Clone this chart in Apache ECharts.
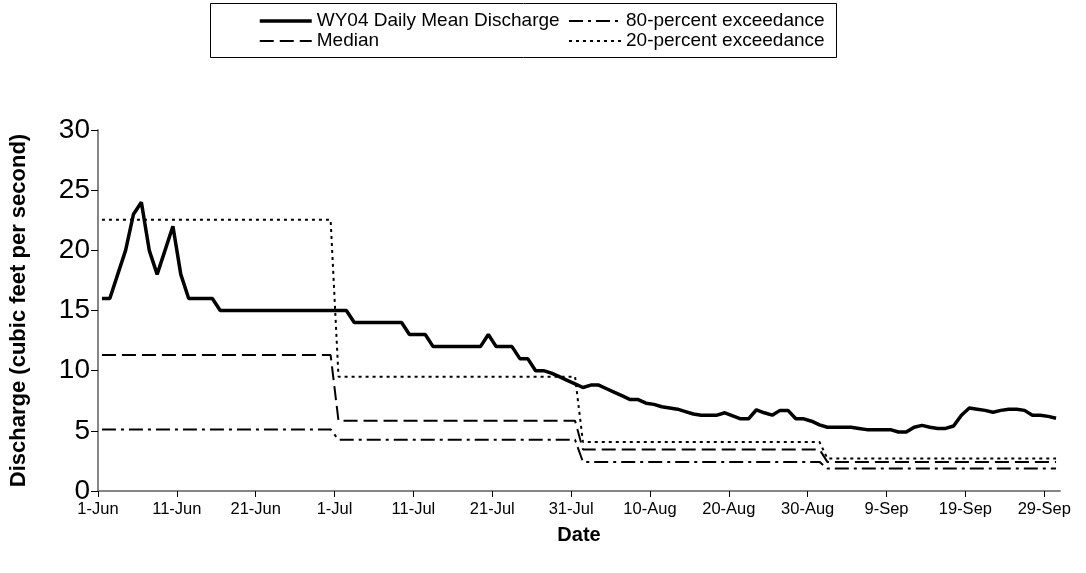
<!DOCTYPE html>
<html>
<head>
<meta charset="utf-8">
<script src="https://cdn.jsdelivr.net/npm/echarts@6/dist/echarts.min.js"></script>
<style>
  html, body { margin: 0; padding: 0; background: #fff; }
  #chart { width: 1086px; height: 573px; }
</style>
</head>
<body>
<div id="chart"></div>
<script>
// days per month, water year 2004 summer (1-Jun .. 30-Sep)
const monthDays = [30, 31, 31, 30];
const tickLabels = ['1-Jun', '11-Jun', '21-Jun', '1-Jul', '11-Jul', '21-Jul', '31-Jul',
    '10-Aug', '20-Aug', '30-Aug', '9-Sep', '19-Sep', '29-Sep'];

// WY04 daily mean discharge, one value per day
const discharge = [
    // Jun
    16, 16, 18, 20, 23, 24, 20, 18, 20, 22, 18, 16, 16, 16, 16,
    15, 15, 15, 15, 15, 15, 15, 15, 15, 15, 15, 15, 15, 15, 15,
    // Jul
    15, 15, 14, 14, 14, 14, 14, 14, 14, 13, 13, 13, 12, 12, 12, 12,
    12, 12, 12, 13, 12, 12, 12, 11, 11, 10, 10, 9.8, 9.5, 9.2, 8.9,
    // Aug
    8.6, 8.8, 8.8, 8.5, 8.2, 7.9, 7.6, 7.6, 7.3, 7.2, 7.0, 6.9, 6.8, 6.6, 6.4, 6.3,
    6.3, 6.3, 6.5, 6.25, 6.0, 6.0, 6.75, 6.5, 6.3, 6.7, 6.7, 6.0, 6.0, 5.8, 5.5,
    // Sep
    5.3, 5.3, 5.3, 5.3, 5.2, 5.1, 5.1, 5.1, 5.1, 4.9, 4.9, 5.3, 5.45, 5.3, 5.2,
    5.2, 5.4, 6.3, 6.9, 6.8, 6.7, 6.55, 6.7, 6.8, 6.8, 6.7, 6.3, 6.3, 6.2, 6.05
];

// monthly statistics (Jun, Jul, Aug, Sep)
const medianByMonth = [11.3, 5.83, 3.45, 2.42];
const exceed80ByMonth = [5.12, 4.25, 2.42, 1.87];
const exceed20ByMonth = [22.55, 9.5, 4.08, 2.7];

const FONT = 'Liberation Sans, Arial, sans-serif';

// points sit in the middle of each day slot
function dailyPoints(values) {
    return values.map((v, i) => [i + 0.5, v]);
}

function monthlyPoints(monthVals) {
    const out = [];
    monthVals.forEach((v, m) => {
        for (let d = 0; d < monthDays[m]; d++) out.push([out.length + 0.5, v]);
    });
    return out;
}

const totalDays = monthDays.reduce((a, b) => a + b, 0);
const tickValues = tickLabels.map((_, i) => i * 10);

const legendCommon = {
    orient: 'vertical',
    top: 11,
    padding: 0,
    itemWidth: 52,
    itemHeight: 14,
    itemGap: 0,
    itemStyle: { opacity: 0 },
    textStyle: { fontSize: 19, fontFamily: FONT, color: '#000', lineHeight: 20 }
};

const chart = echarts.init(document.getElementById('chart'));

const option = {
    animation: false,
    backgroundColor: '#fff',
    textStyle: { fontFamily: FONT, color: '#000' },
    graphic: [{
        type: 'rect',
        shape: { x: 210.5, y: 3.5, width: 626, height: 54 },
        style: { fill: 'none', stroke: '#000', lineWidth: 1 }
    }],
    legend: [
        Object.assign({
            data: [{ name: 'WY04 Daily Mean Discharge', lineStyle: { width: 3.5 } }, 'Median'],
            left: 258
        }, legendCommon),
        Object.assign({ data: ['80-percent exceedance', '20-percent exceedance'], left: 568 }, legendCommon)
    ],
    grid: { left: 98, right: 26, top: 130, bottom: 82 },
    xAxis: {
        type: 'value',
        min: 0,
        max: totalDays,
        name: 'Date',
        nameLocation: 'middle',
        nameGap: 34,
        nameTextStyle: { fontSize: 20, fontWeight: 'bold', fontFamily: FONT, color: '#000' },
        splitLine: { show: false },
        axisLine: { lineStyle: { color: '#868686', width: 2 } },
        axisTick: { customValues: tickValues, length: 6, lineStyle: { color: '#000', width: 1 } },
        axisLabel: {
            customValues: tickValues,
            formatter: v => tickLabels[Math.round(v / 10)],
            fontSize: 16.5,
            fontFamily: FONT,
            color: '#000',
            margin: 10
        }
    },
    yAxis: {
        type: 'value',
        min: 0,
        max: 30,
        interval: 5,
        name: 'Discharge (cubic feet per second)',
        nameLocation: 'middle',
        nameGap: 68,
        nameTextStyle: { fontSize: 22, fontWeight: 'bold', fontFamily: FONT, color: '#000' },
        splitLine: { show: false },
        axisLine: { show: true, lineStyle: { color: '#868686', width: 2 } },
        axisTick: { show: true, length: 7, lineStyle: { color: '#000', width: 1 } },
        axisLabel: { fontSize: 28, fontFamily: FONT, color: '#000', margin: 8 }
    },
    series: [
        {
            name: '20-percent exceedance',
            type: 'line',
            symbol: 'none',
            data: monthlyPoints(exceed20ByMonth),
            lineStyle: { color: '#000', width: 2, type: [3, 4] },
            itemStyle: { color: '#000' }
        },
        {
            name: 'Median',
            type: 'line',
            symbol: 'none',
            data: monthlyPoints(medianByMonth),
            lineStyle: { color: '#000', width: 2, type: [14, 6] },
            itemStyle: { color: '#000' }
        },
        {
            name: '80-percent exceedance',
            type: 'line',
            symbol: 'none',
            data: monthlyPoints(exceed80ByMonth),
            lineStyle: { color: '#000', width: 2, type: [14, 5, 3, 5] },
            itemStyle: { color: '#000' }
        },
        {
            name: 'WY04 Daily Mean Discharge',
            type: 'line',
            symbol: 'none',
            z: 5,
            data: dailyPoints(discharge),
            lineStyle: { color: '#000', width: 3.5 },
            itemStyle: { color: '#000' }
        }
    ]
};

chart.setOption(option);
</script>
</body>
</html>
